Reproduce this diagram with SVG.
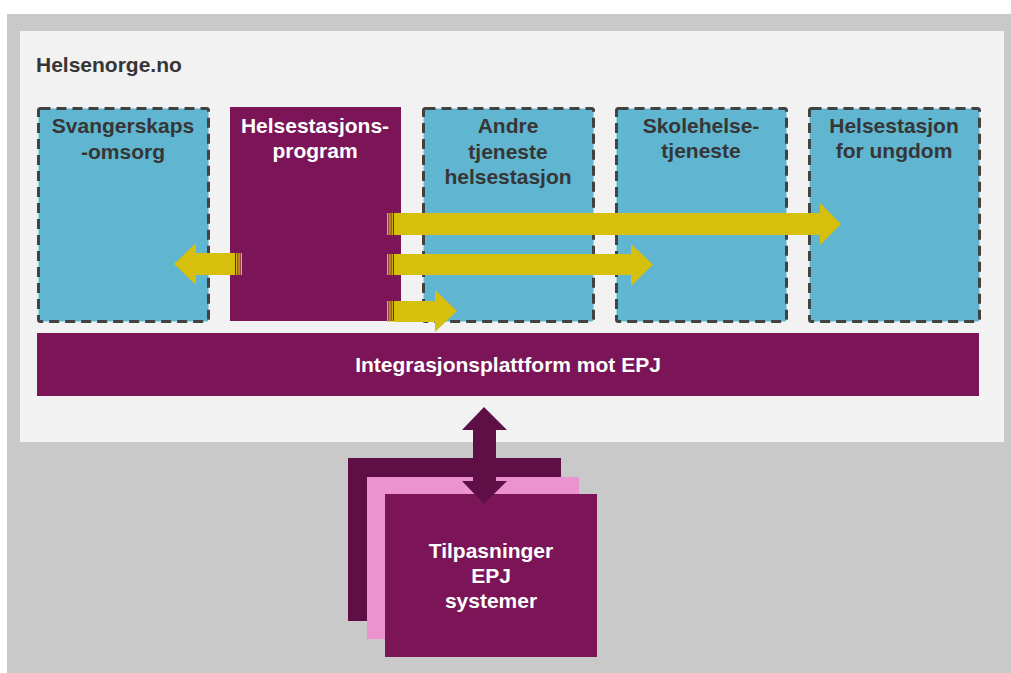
<svg xmlns="http://www.w3.org/2000/svg" width="1011" height="673" viewBox="0 0 1011 673">
<style>
.t{font-family:"Liberation Sans",Arial,sans-serif;font-weight:bold;font-size:21px;text-anchor:middle}
.dk{fill:#363636}
.wt{fill:#ffffff}
.svc{fill:#60b5d0;stroke:#424242;stroke-width:3;stroke-dasharray:10 6}
.pur{fill:#7b1557}
.arr{fill:#d6bf0d}
</style>
<rect x="0" y="0" width="1011" height="673" fill="#ffffff"/>
<rect x="7" y="14" width="1004" height="659" fill="#c9c9c9"/>
<rect x="20" y="31" width="984" height="411" fill="#f2f2f2"/>
<text x="36" y="72" class="t dk" style="text-anchor:start">Helsenorge.no</text>

<g id="svangerskap">
<rect x="38.5" y="108.5" width="170" height="213" rx="2" class="svc"/>
<text x="123" y="133" class="t dk">Svangerskaps</text>
<text x="123" y="159" class="t dk">-omsorg</text>
</g>
<g id="helsestasjonsprogram">
<rect x="230" y="107" width="171" height="214" class="pur"/>
<text x="315" y="133" class="t wt">Helsestasjons-</text>
<text x="315" y="158" class="t wt">program</text>
</g>
<g id="andre">
<rect x="423.5" y="108.5" width="170" height="213" rx="2" class="svc"/>
<text x="508" y="133" class="t dk">Andre</text>
<text x="508" y="159" class="t dk">tjeneste</text>
<text x="508" y="184" class="t dk">helsestasjon</text>
</g>
<g id="skolehelse">
<rect x="616.5" y="108.5" width="170" height="213" rx="2" class="svc"/>
<text x="701" y="133" class="t dk">Skolehelse-</text>
<text x="701" y="158" class="t dk">tjeneste</text>
</g>
<g id="ungdom">
<rect x="809.5" y="108.5" width="170" height="213" rx="2" class="svc"/>
<text x="894" y="133" class="t dk">Helsestasjon</text>
<text x="894" y="158" class="t dk">for ungdom</text>
</g>
<g id="integrasjon">
<rect x="37" y="333" width="942" height="63" class="pur"/>
<text x="508" y="372" class="t wt">Integrasjonsplattform mot EPJ</text>
</g>
<g id="tilpasninger">
<rect x="348" y="458" width="213" height="163" fill="#5e1046"/>
<rect x="367" y="477" width="212" height="162" fill="#ec93cf"/>
<rect x="385" y="494" width="212" height="163" class="pur"/>
<text x="491" y="558" class="t wt">Tilpasninger</text>
<text x="491" y="583" class="t wt">EPJ</text>
<text x="491" y="608" class="t wt">systemer</text>
</g>
<g id="connectors">
<g class="arr">
<rect x="387" y="213" width="1.3" height="22"/><rect x="389.3" y="213" width="1.3" height="22"/><rect x="391.6" y="213" width="1.3" height="22"/>
<polygon points="394,213 820,213 820,203 841,224 820,245 820,235 394,235"/>
<rect x="387" y="254" width="1.3" height="21"/><rect x="389.3" y="254" width="1.3" height="21"/><rect x="391.6" y="254" width="1.3" height="21"/>
<polygon points="394,254 631,254 631,244 653,264.5 631,286 631,275 394,275"/>
<rect x="387" y="301" width="1.3" height="21"/><rect x="389.3" y="301" width="1.3" height="21"/><rect x="391.6" y="301" width="1.3" height="21"/>
<polygon points="394,301 435,301 435,290 457,311 435,332 435,322 394,322"/>
<rect x="240.7" y="253" width="1.3" height="22"/><rect x="238.4" y="253" width="1.3" height="22"/><rect x="236.1" y="253" width="1.3" height="22"/>
<polygon points="235,253 196,253 196,243 174,264 196,285 196,275 235,275"/>
</g>
<polygon fill="#5e1046" points="484,407 507,430 496,430 496,481 507,481 484,504 462,481 473,481 473,430 462,430"/>
</g>
</svg>
